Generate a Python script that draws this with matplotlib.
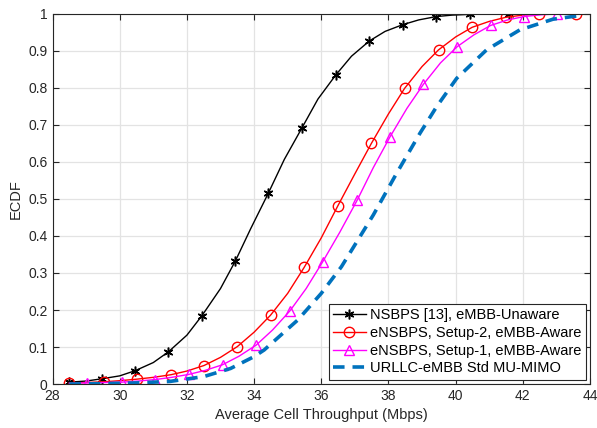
import numpy as np
import matplotlib
matplotlib.use("Agg")
import matplotlib.pyplot as plt

plt.rcParams['font.family'] = ['Liberation Sans', 'DejaVu Sans']

# NSBPS [13], eMBB-Unaware (markers + curve points)
blk_x = [28.5, 29.0, 29.46, 30.0, 30.46, 31.0, 31.45, 32.0, 32.45, 33.0, 33.44, 33.9,
         34.42, 34.9, 35.43, 35.9, 36.43, 36.9, 37.43, 37.9, 38.42, 38.9, 39.42, 39.9,
         40.43, 41.0, 41.58, 44.0]
blk_y = [0.005, 0.008, 0.014, 0.022, 0.036, 0.058, 0.087, 0.132, 0.185, 0.258, 0.332, 0.42,
         0.515, 0.607, 0.693, 0.770, 0.835, 0.886, 0.927, 0.953, 0.971, 0.984, 0.993, 0.997,
         0.999, 1.0, 1.0, 1.0]
blk_mk = [0, 2, 4, 6, 8, 10, 12, 14, 16, 18, 20, 22, 24, 26]

# eNSBPS, Setup-2, eMBB-Aware
red_x = [28.5, 29.0, 29.53, 30.0, 30.5, 31.0, 31.52, 32.0, 32.51, 33.0, 33.5, 34.0,
         34.49, 35.0, 35.49, 36.0, 36.49, 37.0, 37.49, 38.0, 38.48, 39.0, 39.49, 40.0,
         40.49, 41.0, 41.49, 42.0, 42.48, 43.0, 43.57, 44.0]
red_y = [0.003, 0.004, 0.006, 0.009, 0.013, 0.018, 0.025, 0.035, 0.050, 0.072, 0.101, 0.140,
         0.186, 0.245, 0.315, 0.395, 0.481, 0.568, 0.650, 0.730, 0.799, 0.858, 0.903, 0.938,
         0.964, 0.980, 0.991, 0.997, 0.9995, 1.0, 1.0, 1.0]
red_mk = [0, 2, 4, 6, 8, 10, 12, 14, 16, 18, 20, 22, 24, 26, 28, 30]

# eNSBPS, Setup-1, eMBB-Aware
mag_x = [28.5, 29.02, 29.55, 30.06, 30.55, 31.05, 31.55, 32.06, 32.55, 33.06, 33.55, 34.06,
         34.55, 35.07, 35.55, 36.04, 36.55, 37.07, 37.55, 38.04, 38.55, 39.04, 39.55, 40.05,
         40.55, 41.04, 41.55, 42.03, 42.55, 43.02, 44.0]
mag_y = [0.002, 0.003, 0.004, 0.005, 0.008, 0.012, 0.018, 0.026, 0.037, 0.052, 0.075, 0.105,
         0.146, 0.198, 0.258, 0.330, 0.410, 0.497, 0.585, 0.667, 0.745, 0.810, 0.868, 0.912,
         0.944, 0.969, 0.984, 0.993, 0.998, 1.0, 1.0]
mag_mk = [1, 3, 5, 7, 9, 11, 13, 15, 17, 19, 21, 23, 25, 27, 29]

# URLLC-eMBB Std MU-MIMO
blu_x = [28.5, 29.5, 30.5, 31.5, 32.5, 33.3, 34.0, 34.3, 35.3, 36.0, 36.6, 37.55, 38.24,
         38.94, 39.43, 40.03, 40.92, 41.91, 42.9, 43.8]
blu_y = [0.0, 0.001, 0.003, 0.007, 0.020, 0.042, 0.074, 0.092, 0.173, 0.245, 0.317, 0.457,
         0.569, 0.678, 0.749, 0.826, 0.903, 0.957, 0.986, 0.997]

fig = plt.figure(figsize=(5.97, 4.28), dpi=100)
ax = fig.add_axes([0.088, 0.1028, 0.9003, 0.8645])

ax.plot(blk_x, blk_y, color='black', lw=1.0, marker=(6, 2, 0), ms=7, mew=1.1,
        markevery=blk_mk, label='NSBPS [13], eMBB-Unaware')
ax.plot(red_x, red_y, color='red', lw=1.0, marker='o', ms=7.5, mfc='none', mew=1.0,
        markevery=red_mk, label='eNSBPS, Setup-2, eMBB-Aware')
ax.plot(mag_x, mag_y, color='magenta', lw=1.0, marker='^', ms=7.5, mfc='none', mew=1.0,
        markevery=mag_mk, label='eNSBPS, Setup-1, eMBB-Aware')
ax.plot(blu_x, blu_y, color='#0072BD', lw=2.6, ls=(0, (3.2, 2.2)),
        label='URLLC-eMBB Std MU-MIMO')

ax.set_xlim(28, 44)
ax.set_ylim(0, 1)
ax.set_xticks(np.arange(28, 45, 2))
ax.set_yticks(np.arange(0, 1.01, 0.1))
ax.set_yticklabels(['0', '0.1', '0.2', '0.3', '0.4', '0.5', '0.6', '0.7', '0.8', '0.9', '1'])
ax.grid(True, color='#e3e3e3', lw=0.9)
ax.set_axisbelow(True)
ax.tick_params(direction='in', top=True, right=True, labelsize=10, colors='#262626',
               length=4)
for s in ax.spines.values():
    s.set_color('#262626')
    s.set_linewidth(0.8)
ax.set_xlabel('Average Cell Throughput (Mbps)', fontsize=10.5, color='#262626')
ax.set_ylabel('ECDF', fontsize=10.5, color='#262626')

leg = ax.legend(loc='lower right', fontsize=10.5, fancybox=False, framealpha=1,
                edgecolor='#262626', borderpad=0.3, labelspacing=0.25,
                handlelength=2.2, handletextpad=0.3, borderaxespad=0.3)
leg.get_frame().set_linewidth(0.8)

fig.savefig('out.png', dpi=100)
